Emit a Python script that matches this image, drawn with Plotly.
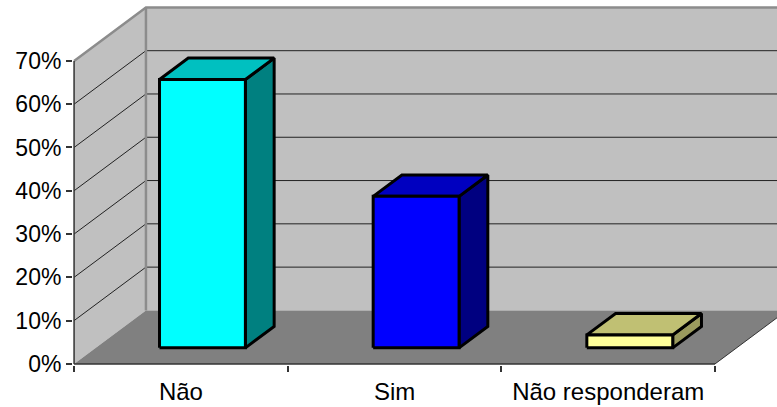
import plotly.graph_objects as go

# Respostas e percentuais
categorias = ["Não", "Sim", "Não responderam"]
percentuais = [62, 35, 3]

# Cores das faces de cada barra (frente, topo, lateral)
cores_frente = ["#00FFFF", "#0000FF", "#FFFF99"]
cores_topo = ["#00C0C0", "#0000C0", "#C0C073"]
cores_lado = ["#008080", "#000080", "#9A9A5E"]

# Eixo dos valores
ticks_y = [0, 10, 20, 30, 40, 50, 60, 70]
rotulos_y = ["0%", "10%", "20%", "30%", "40%", "50%", "60%", "70%"]

# Geometria da perspectiva oblíqua (em unidades dos eixos)
PROF_X = 0.3364      # deslocamento horizontal da profundidade total
PROF_Y = 12.36       # deslocamento vertical da profundidade total (%)
Y_MAX = ticks_y[-1]
MEIA_LARG = 0.201
D0, D1 = 0.3, 0.7    # posição da barra na profundidade
X_MIN, X_MAX = -0.5, 2.79
N = len(categorias)

fig = go.Figure()


def poligono(xs, ys, preenchimento, cor_linha=None, largura=0):
    fig.add_trace(go.Scatter(
        x=list(xs) + [xs[0]], y=list(ys) + [ys[0]],
        mode="lines", fill="toself", fillcolor=preenchimento,
        line=dict(color=cor_linha or preenchimento, width=largura),
        hoverinfo="skip", showlegend=False))


def linha(xs, ys, cor, largura):
    fig.add_trace(go.Scatter(
        x=xs, y=ys, mode="lines", line=dict(color=cor, width=largura),
        hoverinfo="skip", showlegend=False))


xe = X_MIN                   # aresta frontal esquerda
xf = X_MIN + PROF_X          # canto do fundo
xd = N - 0.5                 # aresta frontal direita
x_lim = X_MAX + 0.2

# Parede lateral
poligono([xe, xf, xf, xe], [0, PROF_Y, Y_MAX + PROF_Y, Y_MAX], "#C0C0C0")
# Parede do fundo
poligono([xf, x_lim, x_lim, xf], [PROF_Y, PROF_Y, Y_MAX + PROF_Y, Y_MAX + PROF_Y], "#C0C0C0")
# Piso
poligono([xe, xd, xd + PROF_X, xf], [0, 0, PROF_Y, PROF_Y], "#808080")
linha([xd, xd + PROF_X], [0, PROF_Y], "#333333", 1)

# Linhas de grade nas paredes
for v in ticks_y[1:-1]:
    linha([xe, xf, x_lim], [v, v + PROF_Y, v + PROF_Y], "#222222", 1)

# Arestas das paredes
linha([xe, xf, x_lim], [Y_MAX, Y_MAX + PROF_Y, Y_MAX + PROF_Y], "#8C8C8C", 2.5)
linha([xf, xf], [PROF_Y, Y_MAX + PROF_Y], "#8C8C8C", 2.5)

# Eixos frontais
linha([xe, xe], [0, Y_MAX], "#333333", 1.5)
linha([xe, xd], [0, 0], "#333333", 1.5)

# Barras 3D
ddx = (D1 - D0) * PROF_X
ddy = (D1 - D0) * PROF_Y
for i, v in enumerate(percentuais):
    x0 = i - MEIA_LARG + D0 * PROF_X
    x1 = i + MEIA_LARG + D0 * PROF_X
    yb = D0 * PROF_Y
    yt = v + D0 * PROF_Y
    poligono([x1, x1, x1 + ddx, x1 + ddx], [yb, yt, yt + ddy, yb + ddy],
             cores_lado[i], "#000000", 3)
    poligono([x0, x1, x1 + ddx, x0 + ddx], [yt, yt, yt + ddy, yt + ddy],
             cores_topo[i], "#000000", 3)
    poligono([x0, x1, x1, x0], [yb, yb, yt, yt],
             cores_frente[i], "#000000", 3)

fonte = "Liberation Sans, Arial, sans-serif"
fig.update_layout(
    width=777, height=407,
    margin=dict(l=73, r=0, t=0, b=42),
    paper_bgcolor="white", plot_bgcolor="white",
    xaxis=dict(
        range=[X_MIN - 0.005, X_MAX], showgrid=False, zeroline=False, showline=False,
        tickmode="array", tickvals=list(range(N)), ticktext=categorias, ticks="",
        ticklabelstandoff=10,
        tickfont=dict(family=fonte, size=24, color="#000000"),
        minor=dict(tickmode="array", tickvals=[i - 0.5 for i in range(N + 1)],
                   ticks="outside", ticklen=6, tickcolor="#333333", tickwidth=1.5),
        fixedrange=True),
    yaxis=dict(
        range=[-0.25, 84.07], showgrid=False, zeroline=False, showline=False,
        tickmode="array", tickvals=ticks_y, ticktext=rotulos_y,
        ticks="outside", ticklen=6, tickcolor="#333333", tickwidth=1.5,
        tickfont=dict(family=fonte, size=23, color="#000000"),
        fixedrange=True),
)

fig.write_html("out.html")
